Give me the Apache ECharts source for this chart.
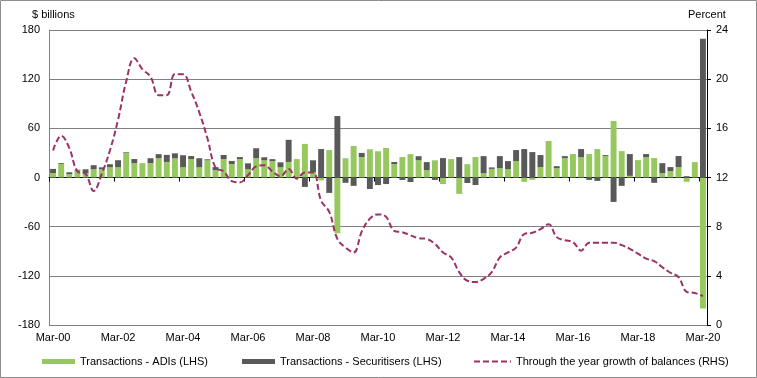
<!DOCTYPE html>
<html>
<head>
<meta charset="utf-8">
<script src="https://cdn.jsdelivr.net/npm/echarts@6/dist/echarts.min.js"></script>
<style>html,body{margin:0;padding:0;background:#fff}#c{width:757px;height:378px}</style>
</head>
<body>
<div id="c"></div>
<script>
const categories = [
 'Mar-00','Jun-00','Sep-00','Dec-00','Mar-01','Jun-01','Sep-01','Dec-01',
 'Mar-02','Jun-02','Sep-02','Dec-02','Mar-03','Jun-03','Sep-03','Dec-03',
 'Mar-04','Jun-04','Sep-04','Dec-04','Mar-05','Jun-05','Sep-05','Dec-05',
 'Mar-06','Jun-06','Sep-06','Dec-06','Mar-07','Jun-07','Sep-07','Dec-07',
 'Mar-08','Jun-08','Sep-08','Dec-08','Mar-09','Jun-09','Sep-09','Dec-09',
 'Mar-10','Jun-10','Sep-10','Dec-10','Mar-11','Jun-11','Sep-11','Dec-11',
 'Mar-12','Jun-12','Sep-12','Dec-12','Mar-13','Jun-13','Sep-13','Dec-13',
 'Mar-14','Jun-14','Sep-14','Dec-14','Mar-15','Jun-15','Sep-15','Dec-15',
 'Mar-16','Jun-16','Sep-16','Dec-16','Mar-17','Jun-17','Sep-17','Dec-17',
 'Mar-18','Jun-18','Sep-18','Dec-18','Mar-19','Jun-19','Sep-19','Dec-19',
 'Mar-20'
];
const adis = [
 5.5,16.5,4,8.5,5,10,10,12.5,
 12.5,30,17.5,17.5,17.5,23.5,19,23.5,
 12.5,22.5,12.5,21,9,22.5,16.5,22.5,
 10,23.5,21,20,12.5,19,22.5,41,
 6.5,-3.5,33.5,-68,23.5,38.5,25,34.5,
 32,36,16.5,25,28.5,21,9,21,
 -8,22.5,-20,16.3,25,5.3,10.5,11.4,
 10.2,20,-5.3,-2.9,12.7,44.5,11.4,23.7,
 28.6,24.9,28.6,34.7,26.1,69,32.2,2,
 21.2,24.9,23.7,5.3,7.8,12.7,-5.3,18.8,
 -160
];
const securitisers = [
 5,1,2.4,1,5,5,2.4,3.7,
 8.6,0.8,5,0,6,5,8.6,6,
 14.7,3.7,11,1.2,3.7,5,3.7,2.4,
 7.3,12.2,3.7,2.4,6,27,0,-11.5,
 14.5,34.7,-18.8,75,-6.5,-10.2,5,-14,
 -9.2,-8,2.4,-3,-5.5,5,9.8,-3,
 23.7,0,24.9,-6.7,-9.2,20.8,1.8,14.7,
 9.8,13.5,34.7,31,14.7,0,2.4,2.4,
 0,9.8,-2.9,-4.1,1.2,-29.8,-10.2,26.6,
 0,3.7,-6.5,12.2,4.9,13.5,1.6,0,
 169.4
];
const growth = [
 14.2,15.4,14.4,12.5,12.3,10.9,12.3,14.2,
 16.7,19.8,21.7,20.8,20.2,18.7,18.7,20.4,
 20.4,19.0,17.3,15.2,12.8,12.5,11.7,11.6,
 12.2,12.9,13.0,12.5,12.1,12.7,11.9,12.4,
 12.4,10.1,9.2,7.0,6.3,5.9,7.6,8.65,
 9.0,8.8,7.65,7.55,7.3,7.07,7.0,6.6,
 5.9,5.5,4.3,3.6,3.5,3.75,4.3,5.5,
 5.9,6.3,7.4,7.5,7.8,8.2,7.15,6.9,
 6.75,6.05,6.7,6.7,6.7,6.7,6.5,6.2,
 5.8,5.4,5.2,4.7,4.25,3.9,2.7,2.6,
 2.35
];
const leftTicks = {min:-180, max:180, interval:60};
const rightTicks = {min:0, max:24, interval:4};
const names = ['Transactions - ADIs (LHS)','Transactions - Securitisers (LHS)','Through the year growth of balances (RHS)'];

const FONT = 'Liberation Sans, Arial, sans-serif';
const txt = {color:'#000', fontFamily:FONT, fontSize:11};
const chart = echarts.init(document.getElementById('c'), null, {renderer:'canvas'});
chart.setOption({
  animation:false,
  backgroundColor:'#fff',
  grid:{left:49, right:50, top:30, bottom:53, containLabel:false},
  graphic:[
    {type:'rect', silent:true, z:100, shape:{x:0.5,y:0.5,width:756,height:377}, style:{fill:'none', stroke:'#8c8c8c', lineWidth:1}},
    {type:'text', left:32, top:9, style:{text:'$ billions', fill:'#000', font:'11px '+FONT}},
    {type:'text', left:688, top:9, style:{text:'Percent', fill:'#000', font:'11px '+FONT}}
  ],
  legend:[
    {data:[names[0]], left:42, top:356, padding:0, icon:'rect', itemWidth:33, itemHeight:5, textStyle:txt, selectedMode:false},
    {data:[names[1]], left:242, top:356, padding:0, icon:'rect', itemWidth:33, itemHeight:5, textStyle:txt, selectedMode:false},
    {data:[{name:names[2], itemStyle:{opacity:0}}], left:473, top:356, padding:0, itemWidth:37, itemHeight:5, textStyle:txt, selectedMode:false}
  ],
  xAxis:[
    {type:'category', data:categories, position:'bottom', boundaryGap:true,
     axisLine:{show:true, onZero:true, onZeroAxisIndex:0, lineStyle:{color:'#000', width:1}},
     axisTick:{show:true, interval:7, length:4, lineStyle:{color:'#000'}},
     axisLabel:{show:false}, splitLine:{show:false}},
    {type:'category', data:categories, position:'bottom', boundaryGap:true,
     axisLine:{show:false, onZero:false}, axisTick:{show:false},
     axisLabel:Object.assign({interval:7, margin:7}, txt), splitLine:{show:false}}
  ],
  yAxis:[
    {type:'value', min:leftTicks.min, max:leftTicks.max, interval:leftTicks.interval, position:'left',
     axisLine:{show:true, lineStyle:{color:'#808080'}}, axisTick:{show:false},
     axisLabel:Object.assign({margin:9}, txt),
     splitLine:{show:true, lineStyle:{color:'#808080', width:1}}},
    {type:'value', min:rightTicks.min, max:rightTicks.max, interval:rightTicks.interval, position:'right',
     axisLine:{show:true, lineStyle:{color:'#000'}}, axisTick:{show:true, length:4, lineStyle:{color:'#000'}},
     axisLabel:Object.assign({margin:9}, txt), splitLine:{show:false}}
  ],
  series:[
    {name:names[0], type:'bar', stack:'tx', xAxisIndex:0, yAxisIndex:0, data:adis,
     barCategoryGap:'27%', itemStyle:{color:'#96C85F'}},
    {name:names[1], type:'bar', stack:'tx', xAxisIndex:0, yAxisIndex:0, data:securitisers,
     barCategoryGap:'27%', itemStyle:{color:'#595959'}},
    {name:names[2], type:'line', xAxisIndex:0, yAxisIndex:1, data:growth, smooth:0.4,
     symbol:'none', showSymbol:false, z:5,
     lineStyle:{color:'#993366', width:2, type:[6,3]}, itemStyle:{color:'#993366'}}
  ]
});
</script>
</body>
</html>
